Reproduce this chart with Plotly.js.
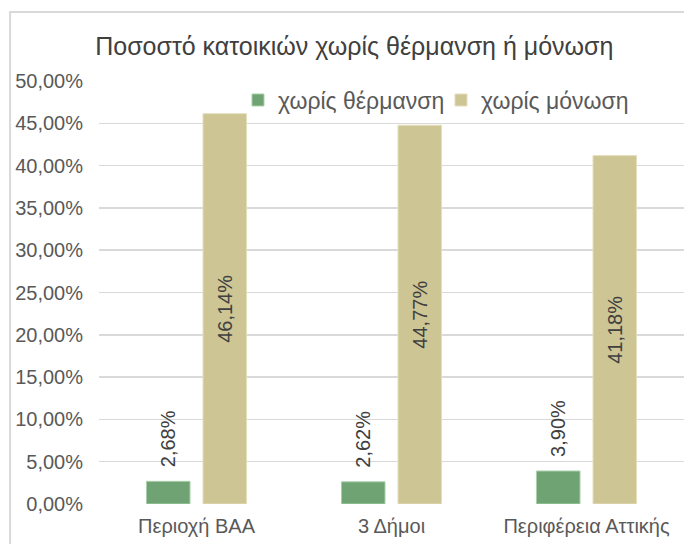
<!DOCTYPE html>
<html>
<head>
<meta charset="utf-8">
<script src="https://cdn.plot.ly/plotly-3.0.1.min.js"></script>
<style>
  html, body { margin: 0; padding: 0; background: #fff; }
  #chart { width: 684px; height: 544px; }
</style>
</head>
<body>
<div id="chart"></div>
<script>
// categories and series (fractions)
var regions = ['Περιοχή ΒΑΑ', '3 Δήμοι', 'Περιφέρεια Αττικής'];
var noHeating = [0.0268, 0.0262, 0.0390];
var noInsulation = [0.4614, 0.4477, 0.4118];
var seriesNames = ['χωρίς θέρμανση', 'χωρίς μόνωση'];

var font = 'Liberation Sans, Arial, sans-serif';

var traceHeat = {
  x: regions,
  y: noHeating,
  name: seriesNames[0],
  type: 'bar',
  marker: { color: '#70a374', line: { color: '#a9d0ab', width: 1 } },
  // leading non-breaking spaces push the label off the bar top
  texttemplate: '\u00a0\u00a0%{y:.2%}',
  textposition: 'outside',
  textangle: -90,
  constraintext: 'none',
  cliponaxis: false,
  outsidetextfont: { family: font, size: 20, color: '#404040' },
  hoverinfo: 'none'
};

var traceIns = {
  x: regions,
  y: noInsulation,
  name: seriesNames[1],
  type: 'bar',
  marker: { color: '#cdc594', line: { color: '#e4dfbd', width: 1 } },
  texttemplate: '%{y:.2%}',
  textposition: 'inside',
  insidetextanchor: 'middle',
  textangle: -90,
  constraintext: 'none',
  insidetextfont: { family: font, size: 20, color: '#404040' },
  hoverinfo: 'none'
};

var layout = {
  width: 684,
  height: 544,
  margin: { l: 99, r: 0, t: 81, b: 40 },
  paper_bgcolor: '#ffffff',
  plot_bgcolor: '#ffffff',
  separators: ',.',
  font: { family: font, color: '#595959' },
  title: {
    text: 'Ποσοστό κατοικιών χωρίς θέρμανση ή μόνωση',
    font: { family: font, size: 25, color: '#404040' },
    x: 0.518, xanchor: 'center',
    y: 0.915, yanchor: 'middle'
  },
  barmode: 'group',
  bargap: 0.42,
  bargroupgap: 0.23,
  showlegend: true,
  legend: {
    orientation: 'h',
    x: 0.2376, xanchor: 'left',
    y: 0.955, yanchor: 'middle',
    entrywidth: 158,
    font: { family: font, size: 23, color: '#595959' },
    bgcolor: 'rgba(0,0,0,0)',
    itemclick: false
  },
  xaxis: {
    showgrid: false,
    showline: false,
    ticks: '',
    tickfont: { family: font, size: 20, color: '#595959' },
    ticklabelstandoff: 8
  },
  yaxis: {
    range: [0, 0.5],
    dtick: 0.05,
    tickformat: '.2%',
    showgrid: true,
    gridcolor: '#d9d9d9',
    gridwidth: 1.5,
    zeroline: false,
    showline: false,
    ticks: '',
    tickfont: { family: font, size: 20, color: '#595959' },
    ticklabelstandoff: 15
  },
  shapes: [{
    type: 'rect',
    xref: 'paper', yref: 'paper',
    x0: -0.152, x1: 1.1,
    y0: -0.2, y1: 1.163,
    line: { color: '#d9d9d9', width: 2 },
    fillcolor: 'rgba(0,0,0,0)',
    layer: 'below'
  }]
};

Plotly.newPlot('chart', [traceHeat, traceIns], layout, { displayModeBar: false, staticPlot: true });
</script>
</body>
</html>
